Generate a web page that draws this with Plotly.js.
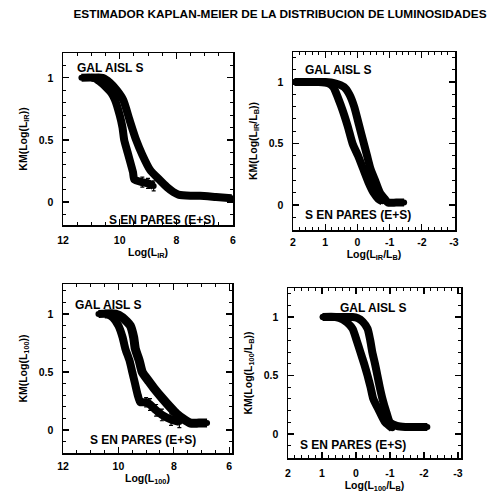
<!DOCTYPE html>
<html>
<head>
<meta charset="utf-8">
<script src="https://cdn.plot.ly/plotly-3.0.1.min.js"></script>
<style>html,body{margin:0;padding:0;background:#fff;}#chart{width:492px;height:497px;}</style>
</head>
<body>
<div id="chart"></div>
<script>
// ---- data ----
// Panel 1: Log(L_IR)
const p1A_x = [11.35, 10.9, 10.7, 10.5, 10.3, 10.16, 10.0, 9.9, 9.84, 9.72, 9.6, 9.53, 9.48, 9.2, 9.0, 8.8];
const p1A_y = [1.0, 1.0, 0.97, 0.93, 0.88, 0.82, 0.7, 0.6, 0.5, 0.4, 0.3, 0.24, 0.18, 0.16, 0.15, 0.13];
const p1A_err = [0, 0, 0, 0, 0, 0, 0, 0, 0, 0, 0, 0, 0, 0.04, 0.04, 0.04];
const p1B_x = [11.0, 10.6, 10.34, 10.1, 9.87, 9.65, 9.42, 9.2, 8.93, 8.6, 8.33, 8.1, 7.93, 7.5, 7.16, 6.6, 6.05];
const p1B_y = [1.0, 1.0, 0.96, 0.9, 0.82, 0.66, 0.5, 0.38, 0.26, 0.18, 0.12, 0.08, 0.06, 0.05, 0.05, 0.04, 0.03];
// Panel 2: Log(L_IR/L_B)
const p2A_x = [1.95, 1.2, 0.9, 0.75, 0.5, 0.3, 0.15, -0.02, -0.17, -0.35, -0.5, -0.65, -0.78];
const p2A_y = [1.0, 1.0, 0.99, 0.96, 0.8, 0.64, 0.5, 0.4, 0.3, 0.18, 0.1, 0.05, 0.03];
const p2B_x = [1.95, 1.0, 0.7, 0.42, 0.25, 0.1, -0.05, -0.2, -0.3, -0.4, -0.55, -0.7, -0.85, -0.95, -1.2, -1.45];
const p2B_y = [1.0, 1.0, 0.99, 0.96, 0.9, 0.8, 0.65, 0.5, 0.4, 0.3, 0.2, 0.1, 0.05, 0.02, 0.02, 0.02];
// Panel 3: Log(L_100)
const p3A_x = [10.72, 10.4, 10.2, 10.0, 9.85, 9.75, 9.6, 9.5, 9.4, 9.3, 9.21, 9.0, 8.86, 8.64, 8.43, 8.1, 7.8];
const p3A_y = [1.0, 1.0, 0.97, 0.9, 0.8, 0.7, 0.6, 0.5, 0.4, 0.3, 0.24, 0.24, 0.22, 0.17, 0.13, 0.09, 0.07];
const p3A_err = [0, 0, 0, 0, 0, 0, 0, 0, 0, 0, 0, 0.04, 0.05, 0.05, 0.05, 0.05, 0.05];
const p3B_x = [10.5, 10.1, 9.85, 9.57, 9.45, 9.39, 9.25, 9.14, 8.9, 8.68, 8.4, 8.14, 7.9, 7.68, 7.39, 7.1, 6.8];
const p3B_y = [1.0, 1.0, 0.97, 0.9, 0.8, 0.7, 0.6, 0.5, 0.42, 0.35, 0.27, 0.2, 0.14, 0.1, 0.06, 0.06, 0.06];
// Panel 4: Log(L_100/L_B)
const p4A_x = [0.98, 0.6, 0.39, 0.25, 0.1, -0.02, -0.13, -0.24, -0.34, -0.43, -0.51, -0.68, -0.86, -1.07];
const p4A_y = [1.0, 1.0, 0.98, 0.95, 0.9, 0.8, 0.7, 0.6, 0.5, 0.4, 0.3, 0.2, 0.1, 0.05];
const p4B_x = [0.98, 0.4, 0.1, -0.05, -0.2, -0.34, -0.42, -0.48, -0.56, -0.63, -0.7, -0.78, -0.88, -1.0, -1.2, -1.45, -1.8, -2.1];
const p4B_y = [1.0, 1.0, 1.0, 0.99, 0.96, 0.9, 0.8, 0.7, 0.6, 0.5, 0.4, 0.3, 0.2, 0.1, 0.07, 0.06, 0.06, 0.06];

const xTicks12 = [12, 10, 8, 6];
const xTicks2 = [2, 1, 0, -1, -2, -3];
const yTicks = [0, 0.5, 1];
const yTickText = ['0', '0.5', '1'];
const labelTop = 'GAL AISL S';
const labelBottom = 'S EN PARES (E+S)';

// ---- helpers ----
const W = 492, H = 497;
const px = x => x / W;
const py = y => 1 - y / H;
const FAM = 'Liberation Sans, Arial, sans-serif';
const FONT = {family: FAM, color: '#000', size: 10.5, weight: 'bold'};

function trace(x, y, xa, ya, err, w) {
  const t = {
    x: x, y: y, xaxis: xa, yaxis: ya, type: 'scatter', mode: 'lines+markers',
    line: {color: '#000', width: w, shape: 'spline', smoothing: 0.6},
    marker: {color: '#000', size: 6},
    showlegend: false, hoverinfo: 'x+y'
  };
  if (err) t.error_y = {type: 'data', array: err, visible: true, color: '#000', thickness: 1.2, width: 2};
  return t;
}

const data = [
  trace(p1A_x, p1A_y, 'x', 'y', p1A_err, 8),
  trace(p1B_x, p1B_y, 'x', 'y', null, 8),
  trace(p2A_x, p2A_y, 'x2', 'y2', null, 8),
  trace(p2B_x, p2B_y, 'x2', 'y2', null, 8),
  trace(p3A_x, p3A_y, 'x3', 'y3', p3A_err, 8),
  trace(p3B_x, p3B_y, 'x3', 'y3', null, 9),
  trace(p4A_x, p4A_y, 'x4', 'y4', null, 8),
  trace(p4B_x, p4B_y, 'x4', 'y4', null, 8)
];

function xax(box, range, ticks, minorDt, title, lblOff) {
  return {
    domain: [px(box[0]), px(box[1])], range: range,
    tickmode: 'array', tickvals: ticks, ticktext: ticks.map(String),
    ticks: 'inside', ticklen: 6, tickwidth: 1.2, tickcolor: '#000',
    minor: {ticks: 'inside', ticklen: 3, dtick: minorDt, tickcolor: '#000', tickwidth: 1},
    showline: true, linecolor: '#000', linewidth: 1.5, mirror: 'allticks',
    showgrid: false, zeroline: false, tickfont: FONT, ticklabelstandoff: lblOff,
    title: {text: title, font: FONT, standoff: 3},
    automargin: false, fixedrange: true
  };
}
function yax(box, range, title) {
  return {
    domain: [py(box[1]), py(box[0])], range: range,
    tickmode: 'array', tickvals: yTicks, ticktext: yTickText,
    ticks: 'inside', ticklen: 6, tickwidth: 1.2, tickcolor: '#000',
    minor: {ticks: 'inside', ticklen: 3, dtick: 0.1, tickcolor: '#000', tickwidth: 1},
    showline: true, linecolor: '#000', linewidth: 1.5, mirror: 'allticks',
    showgrid: false, zeroline: false, tickfont: FONT, ticklabelstandoff: 6,
    title: {text: title, font: FONT, standoff: 9},
    automargin: false, fixedrange: true
  };
}

const layout = {
  width: W, height: H,
  margin: {l: 0, r: 0, t: 0, b: 0},
  paper_bgcolor: '#fff', plot_bgcolor: '#fff',
  font: FONT,
  title: {text: 'ESTIMADOR KAPLAN-MEIER DE LA DISTRIBUCION DE LUMINOSIDADES',
          font: {family: FAM, size: 11.8, color: '#000', weight: 'bold'},
          x: px(280), xanchor: 'center', y: py(14), yanchor: 'middle'},
  xaxis:  Object.assign(xax([63, 233], [12, 6], xTicks12, 0.5, 'Log(L<sub>IR</sub>)', 5), {anchor: 'y'}),
  yaxis:  Object.assign(yax([53, 225], [-0.185, 1.2], 'KM(Log(L<sub>IR</sub>))'), {anchor: 'x'}),
  xaxis2: Object.assign(xax([293, 455], [2.0, -3.03], xTicks2, 0.2, 'Log(L<sub>IR</sub>/L<sub>B</sub>)', 2), {anchor: 'y2'}),
  yaxis2: Object.assign(yax([52, 230], [-0.203, 1.244], 'KM(Log(L<sub>IR</sub>/L<sub>B</sub>))'), {anchor: 'x2'}),
  xaxis3: Object.assign(xax([63, 232], [12.0, 5.9], xTicks12, 0.5, 'Log(L<sub>100</sub>)', 3), {anchor: 'y3'}),
  yaxis3: Object.assign(yax([284, 453], [-0.198, 1.259], 'KM(Log(L<sub>100</sub>))'), {anchor: 'x3'}),
  xaxis4: Object.assign(xax([288, 461], [2.0, -3.09], xTicks2, 0.2, 'Log(L<sub>100</sub>/L<sub>B</sub>)', 5), {anchor: 'y4'}),
  yaxis4: Object.assign(yax([288, 458], [-0.205, 1.248], 'KM(Log(L<sub>100</sub>/L<sub>B</sub>))'), {anchor: 'x4'}),
  annotations: [
    {text: labelTop, x: px(110), y: py(68)},
    {text: labelBottom, x: px(162), y: py(220)},
    {text: labelTop, x: px(338), y: py(70)},
    {text: labelBottom, x: px(358), y: py(215)},
    {text: labelTop, x: px(108), y: py(305)},
    {text: labelBottom, x: px(143), y: py(440)},
    {text: labelTop, x: px(373), y: py(308)},
    {text: labelBottom, x: px(353), y: py(445)}
  ].map(a => Object.assign(a, {xref: 'paper', yref: 'paper', showarrow: false,
      xanchor: 'center', yanchor: 'middle',
      font: {family: FAM, size: 12, color: '#000', weight: 'bold'}}))
};

Plotly.newPlot('chart', data, layout, {staticPlot: true, displayModeBar: false});
</script>
</body>
</html>
